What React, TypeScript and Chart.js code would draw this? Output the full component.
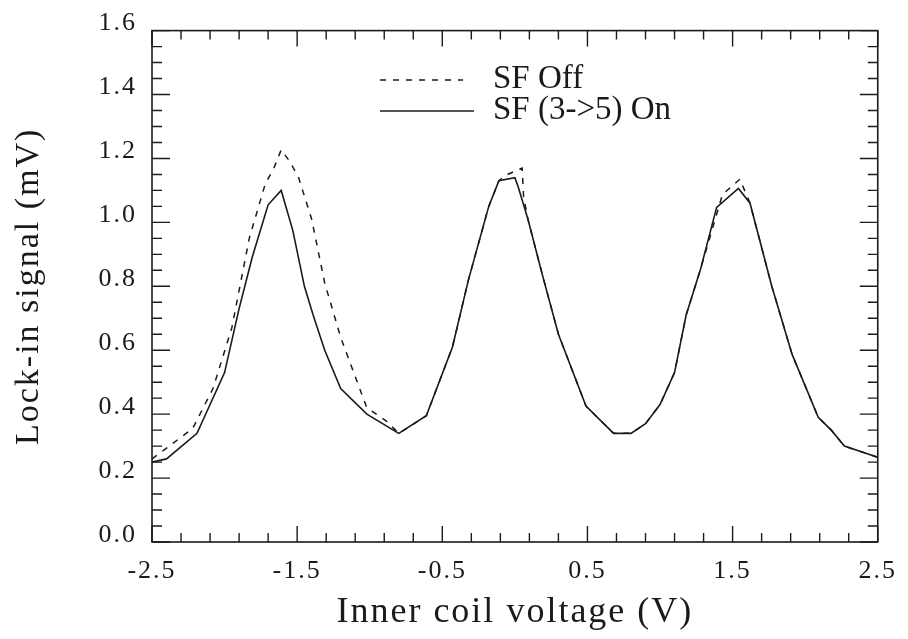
import React, { useEffect, useRef } from "react";
import { Chart, registerables } from "chart.js";

Chart.register(...registerables);

// ---- data ----
const xMin = -2.5;
const xMax = 2.5;
const yMin = 0;
const yMax = 1.6;
const xTickLabels = [-2.5, -1.5, -0.5, 0.5, 1.5, 2.5];
const yTickLabels = [0, 0.2, 0.4, 0.6, 0.8, 1.0, 1.2, 1.4, 1.6];
const xMinorStep = 0.2;
const yMinorStep = 0.05;

const seriesLabels = ["SF Off", "SF (3->5) On"];
const xTitle = "Inner coil voltage (V)";
const yTitle = "Lock-in signal (mV)";

const sfOnVoltage = [
  -2.5, -2.4, -2.19, -2.0, -1.9, -1.81, -1.7, -1.61, -1.53, -1.45, -1.39, -1.31,
  -1.2, -1.02, -0.8, -0.61, -0.43, -0.32, -0.18, -0.11, 0.0, 0.02, 0.09, 0.19,
  0.3, 0.49, 0.68, 0.8, 0.9, 1.0, 1.1, 1.18, 1.28, 1.39, 1.54, 1.62, 1.77, 1.91,
  2.09, 2.18, 2.27, 2.5,
];
const sfOnSignal = [
  0.25, 0.26, 0.34, 0.53, 0.73, 0.89, 1.055, 1.1, 0.975, 0.8, 0.71, 0.6,
  0.48, 0.4, 0.34, 0.395, 0.61, 0.82, 1.05, 1.13, 1.14, 1.115, 1.01, 0.835,
  0.65, 0.425, 0.34, 0.34, 0.37, 0.43, 0.53, 0.71, 0.855, 1.047, 1.106, 1.06, 0.8, 0.587,
  0.39, 0.35, 0.3, 0.265,
];

const sfOffVoltage = [
  -2.5, -2.47, -2.22, -2.08, -1.95, -1.83, -1.72, -1.66, -1.61, -1.55, -1.49, -1.4,
  -1.31, -1.2, -1.11, -1.02, -0.89, -0.8, -0.61, -0.43, -0.32, -0.18, -0.11, -0.07,
  0.05, 0.06, 0.09, 0.19, 0.3, 0.49, 0.68, 0.8, 0.9, 1.0, 1.1, 1.18, 1.28, 1.43, 1.55,
  1.62, 1.77, 1.91, 2.09, 2.18, 2.27, 2.5,
];
const sfOffSignal = [
  0.26, 0.27, 0.355, 0.48, 0.67, 0.95, 1.12, 1.17, 1.227, 1.19, 1.14, 1.01,
  0.81, 0.64, 0.53, 0.42, 0.38, 0.34, 0.395, 0.61, 0.82, 1.05, 1.13, 1.146,
  1.17, 1.08, 1.01, 0.835, 0.65, 0.425, 0.34, 0.34, 0.37, 0.43, 0.53, 0.71, 0.855, 1.087, 1.135,
  1.06, 0.8, 0.587, 0.39, 0.35, 0.3, 0.265,
];

const INK = "#1a1a1a";
const FONT = '"Liberation Serif", "Times New Roman", serif';

const framePlugin = {
  id: "frameTicksLegend",
  beforeDraw(chart: any) {
    chart.ctx.letterSpacing = "2px";
  },
  afterDraw(chart: any) {
    const { ctx, chartArea: a, scales } = chart;
    ctx.save();
    ctx.letterSpacing = "0px";
    ctx.strokeStyle = INK;
    ctx.lineWidth = 1.6;
    ctx.setLineDash([]);
    ctx.strokeRect(a.left, a.top, a.right - a.left, a.bottom - a.top);

    ctx.lineWidth = 1.4;
    const nx = Math.round((xMax - xMin) / xMinorStep);
    for (let i = 0; i <= nx; i++) {
      const v = xMin + i * xMinorStep;
      const px = scales.x.getPixelForValue(v);
      const len = i % 5 === 0 ? 16 : 9;
      ctx.beginPath();
      ctx.moveTo(px, a.bottom);
      ctx.lineTo(px, a.bottom - len);
      ctx.moveTo(px, a.top);
      ctx.lineTo(px, a.top + len);
      ctx.stroke();
    }
    const ny = Math.round((yMax - yMin) / yMinorStep);
    for (let i = 0; i <= ny; i++) {
      const v = yMin + i * yMinorStep;
      const py = scales.y.getPixelForValue(v);
      const len = i % 4 === 0 ? 18 : 10;
      ctx.beginPath();
      ctx.moveTo(a.left, py);
      ctx.lineTo(a.left + len, py);
      ctx.moveTo(a.right, py);
      ctx.lineTo(a.right - len, py);
      ctx.stroke();
    }

    // legend
    const ds = chart.data.datasets;
    const lx0 = 380, lx1d = 463, lx1s = 474, tx = 493;
    const rows = [
      { y: 80, x1: lx1d, d: ds[0] },
      { y: 111, x1: lx1s, d: ds[1] },
    ];
    ctx.font = `33px ${FONT}`;
    ctx.fillStyle = INK;
    ctx.textBaseline = "alphabetic";
    ctx.textAlign = "left";
    rows.forEach((r) => {
      ctx.beginPath();
      ctx.lineWidth = 1.6;
      ctx.setLineDash(r.d.borderDash || []);
      ctx.moveTo(lx0, r.y);
      ctx.lineTo(r.x1, r.y);
      ctx.stroke();
      ctx.setLineDash([]);
      ctx.fillText(r.d.label, tx, r.y + 8);
    });
    ctx.restore();
  },
};

export default function App() {
  const ref = useRef<HTMLCanvasElement | null>(null);
  useEffect(() => {
    document.body.style.margin = "0";
    const canvas = ref.current;
    if (!canvas) return;
    const chart = new Chart(canvas, {
      type: "line",
      data: {
        datasets: [
          {
            label: seriesLabels[0],
            data: sfOffVoltage.map((v, i) => ({ x: v, y: sfOffSignal[i] })),
            borderColor: INK,
            borderWidth: 1.5,
            borderDash: [6, 7],
            pointRadius: 0,
            tension: 0,
            fill: false,
          },
          {
            label: seriesLabels[1],
            data: sfOnVoltage.map((v, i) => ({ x: v, y: sfOnSignal[i] })),
            borderColor: INK,
            borderWidth: 1.6,
            pointRadius: 0,
            tension: 0,
            fill: false,
          },
        ],
      },
      options: {
        animation: false,
        responsive: false,
        maintainAspectRatio: false,
        layout: { padding: { top: 27, right: 21, left: 0, bottom: 0 } },
        plugins: { legend: { display: false }, tooltip: { enabled: false } },
        scales: {
          x: {
            type: "linear",
            min: xMin,
            max: xMax,
            afterBuildTicks: (s: any) => {
              s.ticks = xTickLabels.map((v) => ({ value: v }));
            },
            afterFit: (s: any) => {
              s.height = 97;
            },
            grid: { display: false, drawTicks: false },
            border: { display: false },
            ticks: {
              autoSkip: false,
              maxRotation: 0,
              padding: 14,
              color: INK,
              font: { family: FONT, size: 26 },
              callback: (v: any) => Number(v).toFixed(1),
            },
            title: {
              display: true,
              text: xTitle,
              color: INK,
              font: { family: FONT, size: 36 },
              padding: { top: 0, bottom: 5 },
            },
          },
          y: {
            type: "linear",
            min: yMin,
            max: yMax,
            afterBuildTicks: (s: any) => {
              s.ticks = yTickLabels.map((v) => ({ value: v }));
            },
            afterFit: (s: any) => {
              s.width = 152;
            },
            grid: { display: false, drawTicks: false },
            border: { display: false },
            ticks: {
              autoSkip: false,
              padding: 15,
              labelOffset: -7,
              color: INK,
              font: { family: FONT, size: 26 },
              callback: (v: any) => Number(v).toFixed(1),
            },
            title: {
              display: true,
              text: yTitle,
              color: INK,
              font: { family: FONT, size: 34 },
              padding: { top: 9, bottom: 0 },
            },
          },
        },
      },
      plugins: [framePlugin],
    });
    return () => chart.destroy();
  }, []);
  return (
    <div style={{ width: 908, height: 639, background: "#fff" }}>
      <canvas ref={ref} width={908} height={639} style={{ display: "block" }} />
    </div>
  );
}
